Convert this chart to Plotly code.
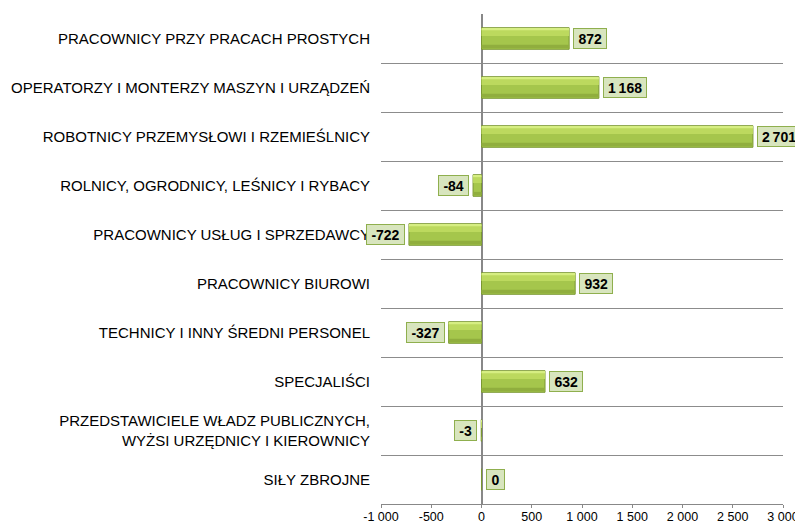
import plotly.graph_objects as go

categories = [
    "PRACOWNICY PRZY PRACACH PROSTYCH",
    "OPERATORZY I MONTERZY MASZYN I URZĄDZEŃ",
    "ROBOTNICY PRZEMYSŁOWI I RZEMIEŚLNICY",
    "ROLNICY, OGRODNICY, LEŚNICY I RYBACY",
    "PRACOWNICY USŁUG I SPRZEDAWCY",
    "PRACOWNICY BIUROWI",
    "TECHNICY I INNY ŚREDNI PERSONEL",
    "SPECJALIŚCI",
    "PRZEDSTAWICIELE WŁADZ PUBLICZNYCH,<br>WYŻSI URZĘDNICY I KIEROWNICY",
    "SIŁY ZBROJNE",
]
values = [872, 1168, 2701, -84, -722, 932, -327, 632, -3, 0]
tick_values = [-1000, -500, 0, 500, 1000, 1500, 2000, 2500, 3000]
tick_labels = ["-1 000", "-500", "0", "500", "1 000", "1 500", "2 000", "2 500", "3 000"]

FONT = "Liberation Sans, Arial, sans-serif"


def fmt(v):
    return "{:,}".format(v).replace(",", "\u2009")


def label_width(s):
    w = 0
    for ch in s:
        w += 2.0 if ch == "\u2009" else (4.6 if ch == "-" else 7.8)
    return w + 7


fig = go.Figure()

# bar body + bevel bands
fig.add_trace(go.Bar(x=values, y=categories, orientation="h", width=0.44, offset=-0.22,
                     marker=dict(color="#A5C64C", line=dict(color="#7A9732", width=1)),
                     hoverinfo="x+y"))
fig.add_trace(go.Bar(x=values, y=categories, orientation="h", width=0.14, offset=-0.19,
                     marker=dict(color="#BCD95E", line=dict(width=0)), hoverinfo="skip"))
fig.add_trace(go.Bar(x=values, y=categories, orientation="h", width=0.04, offset=-0.21,
                     marker=dict(color="#D6EE82", line=dict(width=0)), hoverinfo="skip"))
fig.add_trace(go.Bar(x=values, y=categories, orientation="h", width=0.07, offset=0.13,
                     marker=dict(color="#90AE3E", line=dict(width=0)), hoverinfo="skip"))

for cat, v in zip(categories, values):
    neg = v < 0
    txt = fmt(v)
    fig.add_annotation(
        x=v, y=cat, text="<b>{}</b>".format(txt), showarrow=False,
        xanchor="right" if neg else "left", xshift=-4 if neg else 4,
        width=label_width(txt), height=17, align="center",
        font=dict(family=FONT, size=14, color="#000000"),
        bgcolor="#D8E5BE", bordercolor="#8FAF4E", borderwidth=1, borderpad=1,
    )

# page body has an 8px margin, so the figure is sized to fit the window
fig.update_layout(
    width=795, height=518,
    margin=dict(l=373, r=20, t=6, b=22, autoexpand=False),
    paper_bgcolor="white", plot_bgcolor="white",
    barmode="overlay", showlegend=False,
    font=dict(family=FONT, size=14, color="#000000"),
)
fig.update_xaxes(
    range=[-1000, 3000], tickvals=tick_values, ticktext=tick_labels, automargin=False,
    showgrid=False, zeroline=True, zerolinecolor="#888888", zerolinewidth=1.5,
    showline=True, linecolor="#888888", linewidth=1,
    ticks="outside", tickcolor="#888888", ticklen=3, ticklabelstandoff=-2,
    tickfont=dict(family=FONT, size=12.5, color="#000000"),
)
fig.update_yaxes(
    autorange="reversed", type="category", tickson="boundaries", automargin=False,
    showgrid=True, gridcolor="#8C8C8C", gridwidth=1,
    showline=False, ticks="", ticklabelstandoff=10,
    tickfont=dict(family=FONT, size=15, color="#000000"),
)

fig.write_html("out.html")
